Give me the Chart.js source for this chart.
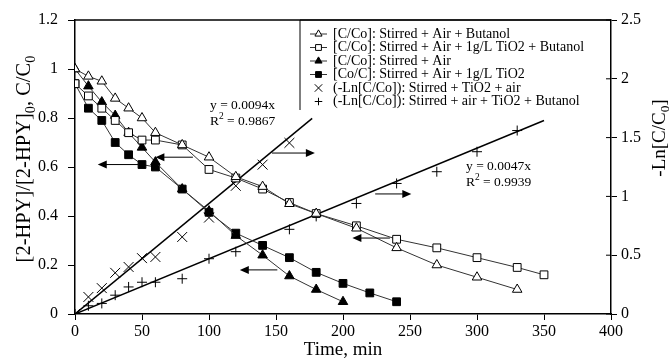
<!DOCTYPE html>
<html>
<head>
<meta charset="utf-8">
<script src="https://cdn.jsdelivr.net/npm/chart.js@4.4.0/dist/chart.umd.min.js"></script>
<style>
  html, body { margin: 0; background: #fff; }
</style>
</head>
<body>
<canvas id="chart" width="672" height="363"></canvas>
<script>
// data (time in min)
const timeA = [0, 10, 20, 30, 40, 50, 60, 80, 100, 120, 140, 160, 180, 210, 240, 270, 300, 330];
const airButanol = [1.0, 0.97, 0.95, 0.88, 0.84, 0.80, 0.74, 0.69, 0.64, 0.56, 0.52, 0.45, 0.41, 0.35, 0.27, 0.20, 0.15, 0.10];

const timeB = [0, 10, 20, 30, 40, 50, 60, 80, 100, 120, 140, 160, 180, 210, 240, 270, 300, 330, 350];
const airTiO2Butanol = [0.94, 0.89, 0.84, 0.79, 0.74, 0.71, 0.71, 0.69, 0.59, 0.555, 0.51, 0.455, 0.41, 0.36, 0.305, 0.27, 0.23, 0.19, 0.16];

const timeC = [0, 10, 20, 30, 40, 50, 60, 80, 100, 120, 140, 160, 180, 200];
const airOnly = [1.0, 0.93, 0.865, 0.81, 0.74, 0.68, 0.62, 0.51, 0.42, 0.32, 0.24, 0.155, 0.10, 0.05];

const timeD = [0, 10, 20, 30, 40, 50, 60, 80, 100, 120, 140, 160, 180, 200, 220, 240];
const airTiO2 = [0.94, 0.84, 0.79, 0.70, 0.65, 0.61, 0.60, 0.51, 0.415, 0.33, 0.28, 0.23, 0.17, 0.125, 0.086, 0.05];

const timeE = [0, 10, 20, 30, 40, 50, 60, 80, 100, 120, 140, 160];
const lnTiO2Air = [0, 0.145, 0.22, 0.35, 0.40, 0.475, 0.485, 0.655, 0.82, 1.09, 1.27, 1.455];

const timeF = [0, 10, 20, 30, 40, 50, 60, 80, 100, 120, 160, 180, 210, 240, 270, 300, 330];
const lnTiO2Butanol = [0, 0.07, 0.09, 0.16, 0.23, 0.27, 0.27, 0.30, 0.47, 0.53, 0.72, 0.83, 0.94, 1.11, 1.21, 1.38, 1.56];

// linear fits shown on the figure
const trendSlopes = [0.0094, 0.0047];
const trendEnds = [177, 350];
const trendEqs = ['y = 0.0094x', 'y = 0.0047x'];
const trendR2 = ['0.9867', '0.9939'];

// arrows pointing at the axis each group belongs to: [t0, t1, value on left axis], head at t1
const arrows = [[88, 60, 0.64], [47, 17, 0.61], [147, 179, 0.657], [151, 123, 0.18], [224, 251, 0.49], [235, 207, 0.31]];

const legendLabels = [
  '[C/Co]: Stirred + Air + Butanol',
  '[C/Co]: Stirred + Air + 1g/L TiO2 + Butanol',
  '[C/Co]: Stirred + Air',
  '[Co/C]: Stirred + Air + 1g/L TiO2',
  '(-Ln[C/Co]): Stirred + TiO2 + air',
  '(-Ln[C/Co]): Stirred + air + TiO2 + Butanol'
];

const SERIF = '"Liberation Serif", "Times New Roman", serif';
const pts = (xs, ys) => xs.map((x, i) => ({ x: x, y: ys[i] }));

function series(label, xs, ys, style, fill, radius, axis, line) {
  return {
    label: label, data: pts(xs, ys), yAxisID: axis,
    showLine: line, borderColor: '#333', borderWidth: 1,
    pointStyle: style, pointRadius: radius, pointHoverRadius: radius,
    pointBackgroundColor: fill, pointBorderColor: '#000', pointBorderWidth: 1,
    inLegend: true
  };
}

const datasets = [
  series(legendLabels[0], timeA, airButanol, 'triangle', '#fff', 5.5, 'y', true),
  series(legendLabels[1], timeB, airTiO2Butanol, 'rect', '#fff', 5.5, 'y', true),
  series(legendLabels[2], timeC, airOnly, 'triangle', '#000', 5.5, 'y', true),
  series(legendLabels[3], timeD, airTiO2, 'rect', '#000', 5.5, 'y', true),
  series(legendLabels[4], timeE, lnTiO2Air, 'crossRot', '#000', 7, 'y2', false),
  series(legendLabels[5], timeF, lnTiO2Butanol, 'cross', '#000', 5, 'y2', false)
];
trendSlopes.forEach((k, i) => {
  datasets.push({
    label: trendEqs[i], data: [{ x: 0, y: 0 }, { x: trendEnds[i], y: k * trendEnds[i] }],
    yAxisID: 'y2', showLine: true, borderColor: '#000', borderWidth: 1.5, pointRadius: 0
  });
});

function drawRich(ctx, parts, x, y, size, align) {
  // parts: [text, 'sub' | 'sup' | undefined]
  let w = 0;
  parts.forEach(p => {
    ctx.font = (p[1] ? size * 0.7 : size) + 'px ' + SERIF;
    w += ctx.measureText(p[0]).width;
  });
  let cx = align === 'center' ? x - w / 2 : x;
  ctx.textAlign = 'left';
  ctx.textBaseline = 'middle';
  parts.forEach(p => {
    const s = p[1] ? size * 0.7 : size;
    ctx.font = s + 'px ' + SERIF;
    const dy = p[1] === 'sub' ? size * 0.3 : p[1] === 'sup' ? -size * 0.35 : 0;
    ctx.fillText(p[0], cx, y + dy);
    cx += ctx.measureText(p[0]).width;
  });
}

const decorations = {
  id: 'decorations',
  afterDatasetsDraw(chart) {
    const ctx = chart.ctx;
    const xs = chart.scales.x, ys = chart.scales.y, y2 = chart.scales.y2;
    const area = chart.chartArea;
    ctx.save();
    ctx.fillStyle = '#000';
    ctx.strokeStyle = '#000';

    // top frame line
    ctx.lineWidth = 1.5;
    ctx.beginPath();
    ctx.moveTo(area.left, area.top);
    ctx.lineTo(area.right, area.top);
    ctx.stroke();

    // right axis ticks cross the axis line
    ctx.lineWidth = 1;
    y2.ticks.forEach(t => {
      const yy = y2.getPixelForValue(t.value);
      ctx.beginPath();
      ctx.moveTo(area.right - 5, yy);
      ctx.lineTo(area.right, yy);
      ctx.stroke();
    });

    // arrows
    arrows.forEach(a => {
      const x0 = xs.getPixelForValue(a[0]), x1 = xs.getPixelForValue(a[1]);
      const yy = ys.getPixelForValue(a[2]);
      const dir = x1 > x0 ? 1 : -1;
      ctx.beginPath();
      ctx.moveTo(x0, yy);
      ctx.lineTo(x1 - dir * 6, yy);
      ctx.stroke();
      ctx.beginPath();
      ctx.moveTo(x1, yy);
      ctx.lineTo(x1 - dir * 9, yy - 4);
      ctx.lineTo(x1 - dir * 9, yy + 4);
      ctx.closePath();
      ctx.fill();
    });

    // trend labels
    const labelPos = [[210, 105, 121], [466, 166, 182]];
    labelPos.forEach((p, i) => {
      drawRich(ctx, [[trendEqs[i]]], p[0], p[1], 13.5, 'left');
      drawRich(ctx, [['R'], ['2', 'sup'], [' = ' + trendR2[i]]], p[0], p[2], 13.5, 'left');
    });

    // legend box
    const lx = 300, ly = 20;
    ctx.lineWidth = 1;
    ctx.beginPath();
    ctx.moveTo(lx, 110);
    ctx.lineTo(lx, ly);
    ctx.lineTo(area.right, ly);
    ctx.stroke();
    chart.data.datasets.forEach((ds, i) => {
      if (!ds.inLegend) return;
      const yy = 34 + i * 13.5;
      if (ds.showLine) {
        ctx.strokeStyle = ds.borderColor;
        ctx.lineWidth = 1;
        ctx.beginPath();
        ctx.moveTo(310, yy);
        ctx.lineTo(327, yy);
        ctx.stroke();
      }
      ctx.fillStyle = ds.pointBackgroundColor;
      ctx.strokeStyle = '#000';
      Chart.helpers.drawPoint(ctx, { pointStyle: ds.pointStyle, radius: ds.pointRadius * 0.75, rotation: 0, borderWidth: 1 }, 318.5, yy);
      ctx.fillStyle = '#000';
      drawRich(ctx, [[ds.label]], 333, yy, 14, 'left');
    });

    // axis titles
    ctx.fillStyle = '#000';
    drawRich(ctx, [['Time, min']], (area.left + area.right) / 2, 350, 19, 'center');
    ctx.save();
    ctx.translate(25, 159);
    ctx.rotate(-Math.PI / 2);
    drawRich(ctx, [['[2-HPY]/[2-HPY]'], ['0', 'sub'], [', C/C'], ['0', 'sub']], 0, 0, 20.5, 'center');
    ctx.restore();
    ctx.save();
    ctx.translate(660, 138);
    ctx.rotate(-Math.PI / 2);
    drawRich(ctx, [['-Ln[C/C'], ['0', 'sub'], [']']], 0, 0, 19, 'center');
    ctx.restore();

    ctx.restore();
  }
};

const tickFont = { family: SERIF, size: 16 };
const fmt = v => String(+v.toFixed(2));

new Chart(document.getElementById('chart'), {
  type: 'scatter',
  data: { datasets: datasets },
  options: {
    responsive: false,
    animation: false,
    layout: { padding: { top: 20, left: 0, right: 0, bottom: 0 } },
    plugins: { legend: { display: false }, tooltip: { enabled: false } },
    scales: {
      x: {
        type: 'linear', min: 0, max: 400,
        ticks: { stepSize: 50, color: '#000', font: tickFont, padding: 2, maxRotation: 0 },
        grid: { drawOnChartArea: false, tickLength: 6, color: '#000' },
        border: { color: '#000', width: 1.5 },
        afterFit: s => { s.height = 49; }
      },
      y: {
        position: 'left', min: 0, max: 1.2,
        ticks: { stepSize: 0.2, color: '#000', font: tickFont, padding: 10, callback: fmt },
        grid: { drawOnChartArea: false, tickLength: 7, color: '#000' },
        border: { color: '#000', width: 1.5 },
        afterFit: s => { s.width = 75; }
      },
      y2: {
        position: 'right', min: 0, max: 2.5,
        ticks: { stepSize: 0.5, color: '#000', font: tickFont, padding: 4, callback: fmt },
        grid: { drawOnChartArea: false, tickLength: 6, color: '#000' },
        border: { color: '#000', width: 1.5 },
        afterFit: s => { s.width = 61; }
      }
    }
  },
  plugins: [decorations]
});
</script>
</body>
</html>
